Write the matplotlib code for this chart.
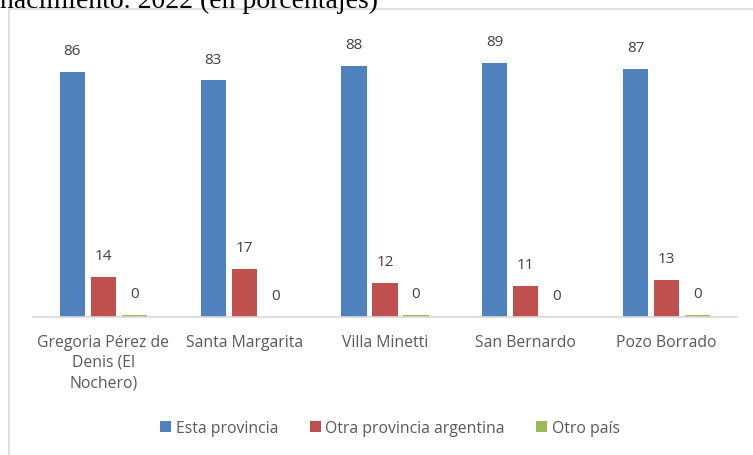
import numpy as np
import matplotlib.pyplot as plt
from matplotlib.patches import Rectangle

localidades = ['Gregoria Pérez de\nDenis (El\nNochero)', 'Santa Margarita',
               'Villa Minetti', 'San Bernardo', 'Pozo Borrado']
esta_provincia = [86, 83, 88, 89, 87]
otra_provincia = [14, 17, 12, 11, 13]
otro_pais = [0.7, 0.0, 0.7, 0.0, 0.7]
series_names = ['Esta provincia', 'Otra provincia argentina', 'Otro país']
colors = ['#4f81bd', '#c0504d', '#9bbb59']

plt.rcParams['font.family'] = ['Open Sans', 'DejaVu Sans']

fig = plt.figure(figsize=(7.53, 4.56), dpi=100)
ax = fig.add_axes([0.0438, 0.3026, 0.935, 0.625])

# border of the chart area, runs past the right and bottom of the picture
fig.patches.append(Rectangle((9 / 753, -0.1), 1.2, 1 - 10 / 456 + 0.1,
                             transform=fig.transFigure, fill=False,
                             edgecolor='#d9d9d9', linewidth=1.2))
fig.text(0.0, 1 - 8 / 456, 'nacimiento. 2022 (en porcentajes)',
         family='Liberation Serif', fontsize=20, ha='left', va='baseline')

x = np.arange(len(localidades))
width = 0.178
offset = 0.22
for i, vals in enumerate([esta_provincia, otra_provincia, otro_pais]):
    pos = x + (i - 1) * offset
    ax.bar(pos, vals, width, color=colors[i], label=series_names[i])
    for p, v in zip(pos, vals):
        ax.annotate(str(int(v)), (p, v), xytext=(0, 10), textcoords='offset points',
                    ha='center', va='bottom', fontsize=11, color='#404040')

ax.set_xlim(-0.5, len(localidades) - 0.5)
ax.set_ylim(0, 100)
ax.set_yticks([])
ax.set_xticks(x)
ax.set_xticklabels(localidades, fontsize=11.3, color='#595959', linespacing=1.35)
ax.tick_params(axis='x', length=0, pad=12)
for s in ['top', 'left', 'right']:
    ax.spines[s].set_visible(False)
ax.spines['bottom'].set_color('#d9d9d9')
ax.spines['bottom'].set_linewidth(1.2)

leg = fig.legend(loc='center', bbox_to_anchor=(390 / 753, 1 - 429 / 456), ncol=3,
                 frameon=False, fontsize=11.3, handlelength=0.7, handleheight=0.7,
                 handletextpad=0.3, columnspacing=2.0)
for t in leg.get_texts():
    t.set_color('#595959')

fig.savefig('out.png', dpi=100)
